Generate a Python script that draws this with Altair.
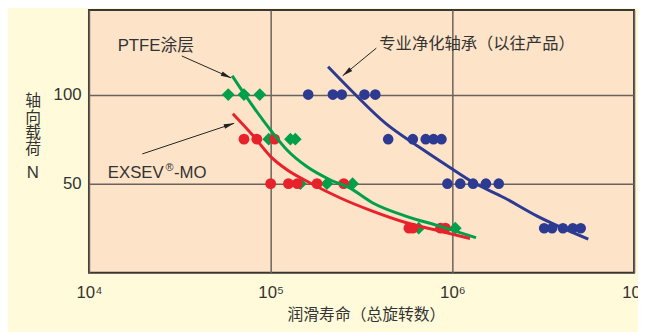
import altair as alt
import pandas as pd

# ---------------- data ----------------
# PTFE coating (green diamonds)
ptfe_life = [58400, 71300, 87100, 97500, 128400, 136700, 145600, 204000, 282500, 653000, 1038000]
ptfe_load = [100, 100, 100, 75, 75, 75, 50, 50, 50, 25, 25]
# EXSEV-MO (red circles)
exsev_life = [71300, 83900, 105100, 100000, 125300, 140200, 180000, 252500, 576700, 606000, 860700, 916000]
exsev_load = [75, 75, 75, 50, 50, 50, 50, 50, 25, 25, 25, 25]
# standard clean bearing (blue circles)
std_life = [160900, 220000, 246200, 328300, 376700,
            443400, 606000, 713400, 788000, 871300,
            939300, 1105000, 1300000, 1530000, 1800000,
            3200000, 3539000, 4061000, 4603000, 5088000]
std_load = [100, 100, 100, 100, 100,
            75, 75, 75, 75, 75,
            50, 50, 50, 50, 50,
            25, 25, 25, 25, 25]

# fitted curves
ptfe_curve_life = [61400, 71600, 100000, 123000, 158000, 212000, 272000, 363000, 553000, 840000, 1350000]
ptfe_curve_load = [110.6, 100.4, 80, 68.9, 59.6, 52.2, 47.6, 39.3, 31.8, 26.3, 19.7]
exsev_curve_life = [61900, 81100, 100000, 123000, 165000, 240000, 363000, 553000, 840000, 1250000]
exsev_curve_load = [89.3, 76.3, 65.2, 57.8, 50.4, 42.1, 34.6, 28.2, 23.5, 19.2]
std_curve_life = [207000, 284000, 431000, 653000, 951000, 1270000, 1930000, 2930000, 5600000]
std_curve_load = [115.6, 101.3, 83.7, 70.7, 59.6, 51.3, 42.1, 31.8, 18.9]

# annotation arrows (start -> tip), in data units
arrow_x1 = [32430, 19660, 381500]
arrow_y1 = [121.7, 66.7, 126.1]
arrow_x2 = [60600, 62950, 249300]
arrow_y2 = [109.4, 83.9, 110.6]
arrow_angle = [113.8, 71.6, 230.5]

x_ticks = [10000, 100000, 1000000, 10000000]
y_ticks = [50, 100]

series_names = ["ptfe", "exsev", "std"]
series_colors = ["#00A04B", "#E8222B", "#2C3A92"]

FONT = "Liberation Sans, Noto Sans CJK SC"
TXT = "#333333"

# ---------------- tables ----------------
pts_ptfe = pd.DataFrame({"life": ptfe_life, "load": ptfe_load})
pts_exsev = pd.DataFrame({"life": exsev_life, "load": exsev_load})
pts_std = pd.DataFrame({"life": std_life, "load": std_load})

curves = pd.concat([
    pd.DataFrame({"life": ptfe_curve_life, "load": ptfe_curve_load, "series": "ptfe"}),
    pd.DataFrame({"life": exsev_curve_life, "load": exsev_curve_load, "series": "exsev"}),
    pd.DataFrame({"life": std_curve_life, "load": std_curve_load, "series": "std"}),
], ignore_index=True)

arrows = pd.DataFrame({"x1": arrow_x1, "y1": arrow_y1, "x2": arrow_x2, "y2": arrow_y2, "angle": arrow_angle})

xscale = alt.Scale(type="log", domain=[1e4, 1e7], nice=False)
yscale = alt.Scale(domain=[0, 147.5], nice=False, zero=False)

xaxis = alt.Axis(
    values=x_ticks, grid=True, gridColor="#6b625b", gridWidth=1.5,
    ticks=False, tickSize=0, domain=False, title=None,
    labelExpr="datum.value == 10000 ? '10⁴' : datum.value == 100000 ? '10⁵' : datum.value == 1000000 ? '10⁶' : '10⁷'",
    labelFont=FONT, labelFontSize=17, labelColor=TXT, labelPadding=12,
    labelAlign="center", labelBaseline="top", labelFlush=False, labelOverlap=False,
)
yaxis = alt.Axis(
    values=y_ticks, grid=True, gridColor="#6b625b", gridWidth=1.5,
    ticks=False, tickSize=0, domain=False, title=None,
    labelFont=FONT, labelFontSize=17, labelColor=TXT, labelPadding=8,
)

X = alt.X("life:Q", scale=xscale, axis=xaxis)
Y = alt.Y("load:Q", scale=yscale, axis=yaxis)

green_pts = alt.Chart(pts_ptfe).mark_point(
    shape="diamond", filled=True, size=165, color=series_colors[0], opacity=1
).encode(x=X, y=Y)
red_pts = alt.Chart(pts_exsev).mark_circle(size=120, color=series_colors[1], opacity=1).encode(
    x=alt.X("life:Q", scale=xscale), y=alt.Y("load:Q", scale=yscale))
blue_pts = alt.Chart(pts_std).mark_circle(size=115, color=series_colors[2], opacity=1).encode(
    x=alt.X("life:Q", scale=xscale), y=alt.Y("load:Q", scale=yscale))

lines = alt.Chart(curves).mark_line(strokeWidth=3, interpolate="monotone").encode(
    x=alt.X("life:Q", scale=xscale),
    y=alt.Y("load:Q", scale=yscale),
    color=alt.Color("series:N", scale=alt.Scale(domain=series_names, range=series_colors), legend=None),
    detail="series:N",
)

arrow_lines = alt.Chart(arrows).mark_rule(color="#222222", strokeWidth=1).encode(
    x=alt.X("x1:Q", scale=xscale), y=alt.Y("y1:Q", scale=yscale),
    x2="x2:Q", y2="y2:Q",
)
arrow_heads = alt.Chart(arrows).mark_point(
    shape="M0,0L0.45,2L-0.45,2Z", filled=True, size=110, color="#222222", opacity=1
).encode(
    x=alt.X("x2:Q", scale=xscale), y=alt.Y("y2:Q", scale=yscale),
    angle=alt.Angle("angle:Q", scale=None),
)

one = pd.DataFrame({"a": [0]})


def data_text(txt, x, y, size=17, align="left", dy=0):
    return alt.Chart(one).mark_text(
        text=txt, font=FONT, fontSize=size, color=TXT, align=align, baseline="middle", dy=dy
    ).encode(x=alt.X("xv:Q", scale=xscale), y=alt.Y("yv:Q", scale=yscale)).transform_calculate(
        xv=str(x), yv=str(y))


def px_text(txt, x, y, size=16, align="center"):
    return alt.Chart(one).mark_text(
        text=txt, font=FONT, fontSize=size, color=TXT, align=align, baseline="middle"
    ).encode(x=alt.value(x), y=alt.value(y))


labels = [
    data_text("PTFE涂层", 14380, 127.2),
    data_text("EXSEV", 12690, 56.1),
    data_text("®", 26380, 56.1, size=11, dy=-5),
    data_text("-MO", 29340, 56.1),
    data_text("专业净化轴承（以往产品）", 396300, 128.3, size=16.5),
    px_text("轴", -56.5, 92),
    px_text("向", -56.5, 109),
    px_text("载", -56.5, 125),
    px_text("荷", -56.5, 141),
    px_text("N", -57, 165, size=17),
    px_text("润滑寿命（总旋转数）", 281, 309),
]

chart = alt.layer(
    green_pts, red_pts, blue_pts, lines, arrow_lines, arrow_heads, *labels
).properties(
    width=552, height=266,
    padding={"left": 82, "top": 0, "right": 4, "bottom": 58},
    autosize=alt.AutoSizeParams(type="none"),
    background="#FFFBDA",
).configure_view(
    fill="#FDE3C8", stroke="#3a3632", strokeWidth=2
)

chart.save("out.html", embed_options={"renderer": "svg", "actions": False})
